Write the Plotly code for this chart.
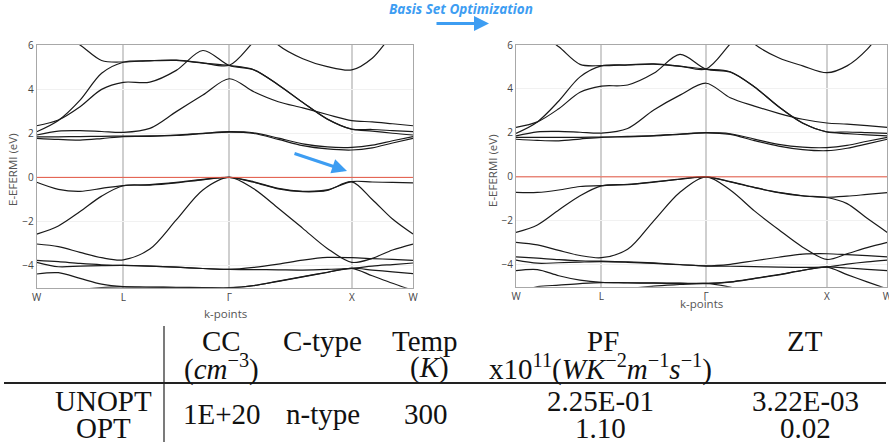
import plotly.graph_objects as go

# ---------------- data ----------------
K_POS = [0.000, 0.177, 0.354, 0.530, 0.707, 0.924, 1.140, 1.357, 1.573,
         1.773, 1.973, 2.173, 2.373, 2.573, 2.740, 2.906, 3.073]
K_TICKS = [0.0, 0.7071, 1.5731, 2.5731, 3.0731]
K_LABELS = ["W", "L", "Γ", "X", "W"]
E_TICKS = [-4, -2, 0, 2, 4, 6]

# UNOPT (left panel) bands, eV relative to E_Fermi
u_v1 = [-0.22, -0.54, -0.63, -0.50, -0.37, -0.33, -0.23, -0.09, 0.00, -0.20, -0.50, -0.63, -0.57, -0.19, -0.21, -0.23, -0.25]
u_v2 = [-2.57, -2.20, -1.55, -0.85, -0.38, -0.35, -0.25, -0.11, 0.00, -0.22, -0.52, -0.65, -0.59, -0.20, -1.00, -1.89, -2.57]
u_v3 = [-3.02, -3.14, -3.40, -3.64, -3.74, -3.25, -1.93, -0.57, 0.00, -0.52, -1.40, -2.31, -3.22, -3.85, -3.67, -3.29, -3.02]
u_v4 = [-3.76, -3.82, -3.90, -3.96, -3.99, -4.02, -4.07, -4.13, -4.17, -4.08, -3.93, -3.75, -3.63, -3.64, -3.68, -3.72, -3.76]
u_v5 = [-3.85, -4.05, -4.02, -4.00, -3.99, -4.02, -4.07, -4.13, -4.17, -4.18, -4.19, -4.20, -4.17, -4.12, -4.02, -3.95, -3.88]
u_v6 = [-4.38, -4.32, -4.58, -4.84, -4.95, -4.97, -4.98, -4.99, -5.00, -4.90, -4.70, -4.50, -4.30, -4.12, -4.20, -4.28, -4.36]
u_v7 = [-5.60, -5.35, -5.10, -4.99, -4.96, -4.98, -4.99, -5.00, -5.01, -4.91, -4.71, -4.51, -4.31, -4.12, -4.46, -4.80, -5.12]
u_c1 = [1.77, 1.72, 1.69, 1.76, 1.85, 1.86, 1.90, 1.98, 2.05, 1.99, 1.72, 1.44, 1.29, 1.24, 1.34, 1.56, 1.77]
u_c2 = [1.84, 1.84, 1.85, 1.86, 1.87, 1.88, 1.92, 2.00, 2.07, 2.02, 1.78, 1.52, 1.38, 1.36, 1.46, 1.66, 1.85]
u_c3 = [1.92, 2.10, 2.12, 2.08, 2.04, 2.22, 2.98, 3.73, 4.47, 3.88, 3.43, 3.15, 2.85, 2.57, 2.52, 2.43, 2.34]
u_c4 = [2.07, 2.58, 3.50, 4.72, 5.22, 5.28, 5.30, 5.18, 5.07, 4.88, 4.20, 3.40, 2.65, 2.19, 2.17, 2.12, 2.07]
u_c5 = [2.34, 2.60, 3.20, 3.99, 4.31, 4.32, 4.85, 5.75, 5.07, 4.87, 4.19, 3.39, 2.64, 2.18, 2.10, 2.00, 1.92]
u_c6 = [7.20, 6.60, 6.00, 5.30, 5.23, 5.29, 5.31, 5.19, 5.08, 6.15, 7.20, 7.80, 8.00, 8.00, 8.00, 8.00, 8.00]
u_c7 = [8.00, 8.00, 8.00, 8.00, 8.00, 8.00, 8.00, 8.00, 8.00, 7.30, 6.00, 5.38, 5.02, 4.87, 5.40, 6.50, 7.50]

# OPT (right panel) bands
o_v1 = [-0.71, -0.71, -0.60, -0.44, -0.40, -0.34, -0.23, -0.10, 0.00, -0.22, -0.48, -0.71, -0.86, -0.93, -0.88, -0.80, -0.72]
o_v2 = [-2.53, -2.19, -1.51, -0.86, -0.41, -0.35, -0.24, -0.11, 0.00, -0.23, -0.49, -0.72, -0.87, -0.94, -1.22, -1.89, -2.53]
o_v3 = [-2.98, -3.10, -3.35, -3.58, -3.68, -3.30, -2.00, -0.70, 0.00, -0.60, -1.55, -2.40, -3.20, -3.76, -3.50, -3.22, -2.98]
o_v4 = [-3.64, -3.70, -3.77, -3.82, -3.84, -3.87, -3.92, -3.99, -4.05, -3.98, -3.82, -3.66, -3.52, -3.50, -3.54, -3.59, -3.64]
o_v5 = [-3.79, -3.93, -3.91, -3.88, -3.86, -3.89, -3.94, -4.00, -4.06, -4.07, -4.09, -4.11, -4.12, -4.10, -3.97, -3.87, -3.79]
o_v6 = [-4.27, -4.22, -4.50, -4.70, -4.80, -4.82, -4.83, -4.84, -4.85, -4.78, -4.62, -4.45, -4.25, -4.10, -4.15, -4.21, -4.27]
o_v7 = [-5.30, -5.00, -4.93, -4.86, -4.81, -4.83, -4.84, -4.85, -4.86, -4.79, -4.63, -4.46, -4.26, -4.11, -4.45, -4.78, -5.10]
o_v8 = [-6.00, -6.00, -6.00, -6.00, -6.00, -5.15, -4.97, -4.90, -4.85, -5.02, -5.30, -6.00, -6.00, -6.00, -6.00, -6.00, -6.00]
o_c1 = [1.71, 1.66, 1.64, 1.72, 1.80, 1.82, 1.86, 1.93, 2.00, 1.93, 1.65, 1.40, 1.24, 1.19, 1.30, 1.50, 1.71]
o_c2 = [1.80, 1.80, 1.80, 1.80, 1.81, 1.84, 1.88, 1.95, 2.01, 1.96, 1.72, 1.48, 1.35, 1.33, 1.43, 1.62, 1.80]
o_c3 = [1.86, 2.05, 2.07, 2.03, 1.99, 2.20, 3.04, 3.72, 4.26, 3.60, 3.22, 2.89, 2.62, 2.45, 2.40, 2.33, 2.25]
o_c4 = [1.98, 2.50, 3.45, 4.55, 5.05, 5.09, 5.13, 5.03, 4.90, 4.78, 4.10, 3.20, 2.45, 2.05, 2.04, 2.01, 1.98]
o_c5 = [2.25, 2.50, 3.10, 3.85, 4.13, 4.18, 4.71, 5.57, 4.90, 4.77, 4.09, 3.19, 2.44, 2.04, 1.97, 1.91, 1.86]
o_c6 = [7.20, 6.60, 5.92, 5.12, 5.06, 5.10, 5.14, 5.04, 4.91, 6.05, 7.20, 7.80, 8.00, 8.00, 8.00, 8.00, 8.00]
o_c7 = [8.00, 8.00, 8.00, 8.00, 8.00, 8.00, 8.00, 8.00, 8.00, 7.30, 6.05, 5.42, 5.05, 4.74, 5.05, 5.80, 7.00]

UNOPT_BANDS = [u_v1, u_v2, u_v3, u_v4, u_v5, u_v6, u_v7, u_c1, u_c2, u_c3, u_c4, u_c5, u_c6, u_c7]
OPT_BANDS = [o_v1, o_v2, o_v3, o_v4, o_v5, o_v6, o_v7, o_v8, o_c1, o_c2, o_c3, o_c4, o_c5, o_c6, o_c7]

# table contents
TABLE_HEAD_1 = ["CC", "C-type", "Temp", "PF", "ZT"]
TABLE_HEAD_2 = ["(<i>cm</i><sup>−3</sup>)", "", "(<i>K</i>)",
                "x10<sup>11</sup>(<i>WK</i><sup>−2</sup><i>m</i><sup>−1</sup><i>s</i><sup>−1</sup>)", ""]
ROW_NAMES = ["UNOPT", "OPT"]
SHARED = ["1E+20", "n-type", "300"]
PF_VALUES = ["2.25E-01", "1.10"]
ZT_VALUES = ["3.22E-03", "0.02"]

# ---------------- figure ----------------
W, H = 889, 446
def fx(p):
    return p / W
def fy(p):
    return 1 - p / H

fig = go.Figure()
for bands, xa, ya in [(UNOPT_BANDS, "x", "y"), (OPT_BANDS, "x2", "y2")]:
    for b in bands:
        fig.add_trace(go.Scatter(x=K_POS, y=b, mode="lines", xaxis=xa, yaxis=ya,
                                 line=dict(color="#1a1a1a", width=1.2, shape="spline", smoothing=0.9),
                                 showlegend=False, hoverinfo="skip"))
    fig.add_trace(go.Scatter(x=[K_TICKS[0], K_TICKS[-1]], y=[0, 0], mode="lines", xaxis=xa, yaxis=ya,
                             line=dict(color="#e2523f", width=1), showlegend=False, hoverinfo="skip"))

axis_font = dict(family="Open Sans, DejaVu Sans, sans-serif", size=10, color="#444")
xcommon = dict(range=[K_TICKS[0], K_TICKS[-1]], tickvals=K_TICKS, ticktext=K_LABELS,
               showgrid=True, gridcolor="#cfcfcf", gridwidth=1.5, zeroline=False,
               showline=True, mirror=True, linecolor="#a8a8a8", linewidth=1,
               ticks="", tickfont=axis_font, automargin=False, ticklabeloverflow="allow")
ycommon = dict(range=[-5, 6], tickvals=E_TICKS, showgrid=True, gridcolor="#f1f1f1", gridwidth=1,
               zeroline=False, showline=True, mirror=True, linecolor="#a8a8a8", linewidth=1,
               ticks="", tickfont=axis_font, automargin=False)

fig.update_layout(
    width=W, height=H, margin=dict(l=0, r=0, t=0, b=0, pad=0, autoexpand=False),
    paper_bgcolor="white", plot_bgcolor="white",
    xaxis=dict(domain=[fx(36.7), fx(413)], anchor="y", **xcommon),
    yaxis=dict(domain=[fy(287.7), fy(45)], anchor="x", **ycommon),
    xaxis2=dict(domain=[fx(516), fx(887.3)], anchor="y2", **xcommon),
    yaxis2=dict(domain=[fy(286.7), fy(45)], anchor="x2", **ycommon),
)

ann = []
title_font = dict(family="Open Sans, DejaVu Sans, sans-serif", size=11.5, color="#555")
for xc, yt in [(225, 313), (701.6, 303)]:
    ann.append(dict(x=fx(xc), y=fy(yt), xref="paper", yref="paper", text="k-points",
                    showarrow=False, font=title_font, xanchor="center", yanchor="middle"))
for xl in [12, 492]:
    ann.append(dict(x=fx(xl), y=fy(170), xref="paper", yref="paper", text="E-EFERMI (eV)",
                    textangle=-90, showarrow=False, font=title_font, xanchor="center", yanchor="middle"))

blue = "#3d9df2"
ann.append(dict(x=fx(461), y=fy(8.5), xref="paper", yref="paper",
                text="<b><i>Basis Set Optimization</i></b>", showarrow=False,
                font=dict(family="Open Sans, DejaVu Sans, sans-serif", size=13.5, color=blue),
                xanchor="center", yanchor="middle"))
# arrows
ann.append(dict(x=fx(489), y=fy(23.5), xref="paper", yref="paper", text="", showarrow=True,
                ax=-54, ay=0, arrowhead=2, arrowsize=1, arrowwidth=3, arrowcolor=blue))
ann.append(dict(x=fx(347), y=fy(171), xref="paper", yref="paper", text="", showarrow=True,
                ax=-54, ay=-18, arrowhead=2, arrowsize=1, arrowwidth=3, arrowcolor=blue))

# table
serif = dict(family="Liberation Serif, Times New Roman, serif", size=29, color="#111")
col_x = [221, 322, 425, 603, 805]
for i, t in enumerate(TABLE_HEAD_1):
    ann.append(dict(x=fx(col_x[i]), y=fy(341), xref="paper", yref="paper", text=t,
                    showarrow=False, font=serif, xanchor="center", yanchor="middle"))
for i, t in enumerate(TABLE_HEAD_2):
    if t:
        xx = col_x[i] + (4 if i == 2 else 0) - (3 if i == 3 else 0)
        ann.append(dict(x=fx(xx), y=fy(367), xref="paper", yref="paper", text=t,
                        showarrow=False, font=serif, xanchor="center", yanchor="middle"))
row_y = [401, 428]
for j, name in enumerate(ROW_NAMES):
    ann.append(dict(x=fx(103), y=fy(row_y[j]), xref="paper", yref="paper", text=name,
                    showarrow=False, font=serif, xanchor="center", yanchor="middle"))
    ann.append(dict(x=fx(600), y=fy(row_y[j]), xref="paper", yref="paper", text=PF_VALUES[j],
                    showarrow=False, font=serif, xanchor="center", yanchor="middle"))
    ann.append(dict(x=fx(805), y=fy(row_y[j]), xref="paper", yref="paper", text=ZT_VALUES[j],
                    showarrow=False, font=serif, xanchor="center", yanchor="middle"))
for i, t in enumerate(SHARED):
    ann.append(dict(x=fx(col_x[i] + 1), y=fy(414), xref="paper", yref="paper", text=t,
                    showarrow=False, font=serif, xanchor="center", yanchor="middle"))

fig.update_layout(annotations=ann)
fig.add_shape(type="line", xref="paper", yref="paper", x0=fx(164), x1=fx(164), y0=fy(326), y1=fy(442),
              line=dict(color="#222", width=1.2))
fig.add_shape(type="line", xref="paper", yref="paper", x0=fx(4), x1=fx(886), y0=fy(383), y1=fy(383),
              line=dict(color="#222", width=2))

fig.write_html("out.html", config={"displayModeBar": False},
               post_script="document.body.style.margin='0px';document.body.style.padding='0px';")
